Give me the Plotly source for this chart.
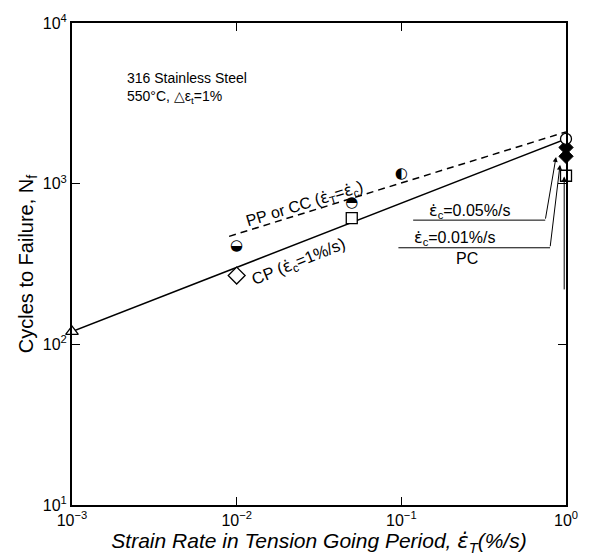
import math
import plotly.graph_objects as go

# ---- data ----
solid_x = [0.001, 1.0]
solid_y = [120, 1900]
dash_x = [0.009, 1.0]
dash_y = [470, 2100]

open_tri_x = [0.001]
open_tri_y = [120]
open_dia_x = [0.01]
open_dia_y = [268]
open_sq_x = [0.05, 1.0]
open_sq_y = [610, 1120]
open_circ_x = [1.0]
open_circ_y = [1900]
filled_x = [1.0, 1.0]
filled_y = [1680, 1480]
half_bottom_x = [0.01]
half_bottom_y = [405]
half_top_x = [0.05]
half_top_y = [753]
half_left_x = [0.1]
half_left_y = [1150]

xtick_vals = [0.001, 0.01, 0.1, 1]
xtick_text = ["10<sup>−3</sup>", "10<sup>−2</sup>", "10<sup>−1</sup>", "10<sup>0</sup>"]
ytick_vals = [10, 100, 1000, 10000]
ytick_text = ["10<sup>1</sup>", "10<sup>2</sup>", "10<sup>3</sup>", "10<sup>4</sup>"]

FONT = "Liberation Sans, Arial, sans-serif"
edot = '<span style="font-family:DejaVu Sans">\u03b5\u0307</span>'

fig = go.Figure()
fig.add_trace(go.Scatter(x=solid_x, y=solid_y, mode="lines",
                         line=dict(color="black", width=1.5), cliponaxis=False))
fig.add_trace(go.Scatter(x=dash_x, y=dash_y, mode="lines",
                         line=dict(color="black", width=1.5, dash="7px,5px"), cliponaxis=False))
mk = dict(color="white", size=11, line=dict(color="black", width=1.3))
fig.add_trace(go.Scatter(x=open_tri_x, y=open_tri_y, mode="markers", cliponaxis=False,
                         marker=dict(symbol="triangle-up", **mk)))
fig.add_trace(go.Scatter(x=open_dia_x, y=open_dia_y, mode="markers", cliponaxis=False,
                         marker=dict(symbol="diamond", **{**mk, "size": 13})))
fig.add_trace(go.Scatter(x=open_sq_x, y=open_sq_y, mode="markers", cliponaxis=False,
                         marker=dict(symbol="square", **mk)))
fig.add_trace(go.Scatter(x=filled_x, y=filled_y, mode="markers", cliponaxis=False,
                         marker=dict(symbol="diamond", color="black", size=11,
                                     line=dict(color="black", width=1))))
fig.add_trace(go.Scatter(x=open_circ_x, y=open_circ_y, mode="markers", cliponaxis=False,
                         marker=dict(symbol="circle", **mk)))
for xs, ys, g in [(half_bottom_x, half_bottom_y, "\u25d2"),
                  (half_top_x, half_top_y, "\u25d3"),
                  (half_left_x, half_left_y, "\u25d0")]:
    fig.add_trace(go.Scatter(x=xs, y=ys, mode="text", text=[g] * len(xs), cliponaxis=False,
                             textposition="middle center",
                             textfont=dict(family="DejaVu Sans", size=15, color="black")))

# leader lines for labels
lead_lines = [
    ([0.118, 0.748], [593, 593]),
    ([0.096, 0.80], [399, 399]),
]
for lx, ly in lead_lines:
    fig.add_trace(go.Scatter(x=lx, y=ly, mode="lines", line=dict(color="black", width=1)))

arrows = [
    (0.87, 1466, 0.748, 593),
    (0.92, 1310, 0.80, 399),
    (0.975, 1110, 0.975, 215),
]
for tx, ty, sx, sy in arrows:
    fig.add_annotation(x=math.log10(tx), y=math.log10(ty), ax=math.log10(sx), ay=math.log10(sy),
                       xref="x", yref="y", axref="x", ayref="y", text="",
                       showarrow=True, arrowhead=2, arrowsize=1, arrowwidth=1, arrowcolor="black")

fig.add_annotation(x=math.log10(0.26), y=math.log10(680), xref="x", yref="y",
                   text=f"{edot}<sub>c</sub>=0.05%/s", showarrow=False,
                   font=dict(family=FONT, size=16, color="black"))
fig.add_annotation(x=math.log10(0.21), y=math.log10(458), xref="x", yref="y",
                   text=f"{edot}<sub>c</sub>=0.01%/s", showarrow=False,
                   font=dict(family=FONT, size=16, color="black"))
fig.add_annotation(x=math.log10(0.25), y=math.log10(340), xref="x", yref="y",
                   text="PC", showarrow=False,
                   font=dict(family=FONT, size=16, color="black"))
fig.add_annotation(x=math.log10(0.0259), y=math.log10(743), xref="x", yref="y",
                   text=f"PP or CC ({edot}<sub>T</sub>={edot}<sub>c</sub>)", showarrow=False,
                   textangle=-17, font=dict(family=FONT, size=16, color="black"))
fig.add_annotation(x=math.log10(0.0238), y=math.log10(327), xref="x", yref="y",
                   text=f"CP ({edot}<sub>c</sub>=1%/s)", showarrow=False,
                   textangle=-22, font=dict(family=FONT, size=16.5, color="black"))
fig.add_annotation(x=0.108, y=0.865, xref="paper", yref="paper", xanchor="left",
                   yanchor="middle", align="left", showarrow=False,
                   text="316 Stainless Steel<br>550°C, △ε<sub>t</sub>=1%",
                   font=dict(family=FONT, size=14, color="black"))

axis_common = dict(showgrid=False, zeroline=False, showline=True, linecolor="black",
                   linewidth=2, mirror="ticks", ticks="inside", ticklen=8, tickwidth=1,
                   tickcolor="black", tickfont=dict(family=FONT, size=16, color="black"))
fig.update_xaxes(type="log", range=[-3, 0], tickvals=xtick_vals, ticktext=xtick_text,
                 title=dict(text=f"<i>Strain Rate in Tension Going Period, {edot}<sub>T</sub>(%/s)</i>",
                            font=dict(family=FONT, size=21, color="black"), standoff=3),
                 **axis_common)
fig.update_yaxes(type="log", range=[1, 4], tickvals=ytick_vals, ticktext=ytick_text,
                 title=dict(text="Cycles to Failure, N<sub>f</sub>",
                            font=dict(family=FONT, size=20, color="black"), standoff=4),
                 **axis_common)
fig.update_layout(width=590, height=559, margin=dict(l=72, r=17, t=19, b=51),
                  paper_bgcolor="white", plot_bgcolor="white", showlegend=False)
fig.write_html("out.html")
